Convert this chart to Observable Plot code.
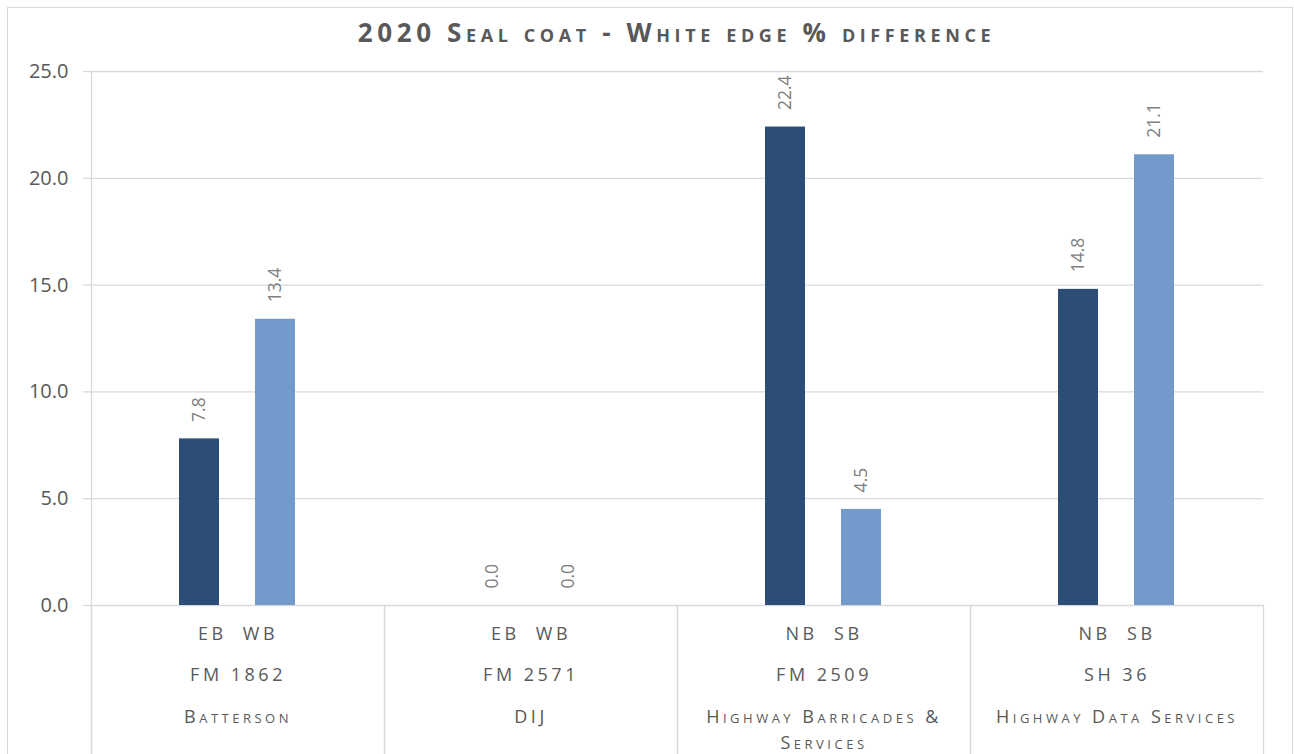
<!DOCTYPE html>
<html><head><meta charset="utf-8">
<script src="https://cdn.jsdelivr.net/npm/d3@7"></script>
<script src="https://cdn.jsdelivr.net/npm/@observablehq/plot@0.6"></script>
<style>
html,body{margin:0;padding:0;background:#fff;}
#wrap{position:relative;width:1294px;height:754px;overflow:hidden;font-family:"Open Sans",sans-serif;}
#border{position:absolute;left:7px;top:7px;width:1286px;height:800px;border:1px solid #d9d9d9;box-sizing:border-box;}
#title{position:absolute;left:89px;top:13px;width:1175px;text-align:center;font-weight:bold;font-size:26px;line-height:38px;color:#595959;font-variant:small-caps;letter-spacing:4.6px;}
#chart{position:absolute;left:0;top:55px;}
g[aria-description="category row"] text{letter-spacing:3.5px;}
</style></head>
<body>
<div id="wrap">
  <div id="border"></div>
  <div id="title">2020 Seal coat - White edge % difference</div>
  <div id="chart"></div>
</div>
<script>
const groups = ["FM 1862", "FM 2571", "FM 2509", "SH 36"];
const directionLabels = ["EB  WB", "EB  WB", "NB  SB", "NB  SB"];
const contractors = ["Batterson", "DIJ", "Highway Barricades &\nServices", "Highway Data Services"];
const slots = ["1", "2"];
const firstValues = [7.8, 0.0, 22.4, 14.8];
const secondValues = [13.4, 0.0, 4.5, 21.1];
const yTicks = [0, 5, 10, 15, 20, 25];
const barColors = ["#2C4D75", "#729ACA"];

const rows = [];
groups.forEach((g, i) => {
  rows.push({group: g, slot: "1", value: firstValues[i]});
  rows.push({group: g, slot: "2", value: secondValues[i]});
});
const cats = groups.map((g, i) => ({group: g, dir: directionLabels[i], road: g, contractor: contractors[i]}));

const grid = "#d9d9d9";
const chart = Plot.plot({
  width: 1294, height: 699,
  marginTop: 16, marginBottom: 149, marginLeft: 89, marginRight: 30,
  style: {fontFamily: "'Open Sans', sans-serif", background: "transparent", overflow: "visible"},
  fx: {domain: groups, padding: 0, axis: null, label: null},
  x: {domain: slots, paddingInner: 0.4706, paddingOuter: 1.155, axis: null},
  y: {domain: [0, 25]},
  color: {domain: slots, range: barColors},
  marks: [
    Plot.gridY(yTicks, {stroke: grid, strokeOpacity: 1, strokeWidth: 1.3}),
    Plot.axisY(yTicks, {tickSize: 8, tickPadding: 15, stroke: grid, strokeOpacity: 1, strokeWidth: 1.3, fill: "#595959", fontSize: 20, tickFormat: d => d.toFixed(1), label: null}),
    Plot.frame({anchor: "left", stroke: grid, strokeWidth: 1.3, insetBottom: -149, fx: () => groups[0]}),
    Plot.frame({anchor: "left", stroke: grid, strokeWidth: 1.3, insetTop: 534, insetBottom: -149}),
    Plot.frame({anchor: "right", stroke: grid, strokeWidth: 1.3, insetTop: 534, insetBottom: -149}),
    Plot.barY(rows, {fx: "group", x: "slot", y: "value", fill: "slot"}),
    Plot.text(rows, {fx: "group", x: "slot", y: "value", text: d => d.value.toFixed(1), rotate: -90, textAnchor: "start", dy: -17, fill: "#808080", fontSize: 17.5}),
    Plot.text(cats, {fx: "group", frameAnchor: "bottom", lineAnchor: "middle", text: "dir", dy: 29, fill: "#595959", fontSize: 18, ariaDescription: "category row"}),
    Plot.text(cats, {fx: "group", frameAnchor: "bottom", lineAnchor: "middle", text: "road", dy: 70, fill: "#595959", fontSize: 18, ariaDescription: "category row"}),
    Plot.text(cats, {fx: "group", frameAnchor: "bottom", lineAnchor: "top", text: "contractor", dy: 99, lineHeight: 1.444, fontVariant: "small-caps", fill: "#595959", fontSize: 18, ariaDescription: "category row"})
  ]
});
document.getElementById("chart").appendChild(chart);
</script>
</body></html>
